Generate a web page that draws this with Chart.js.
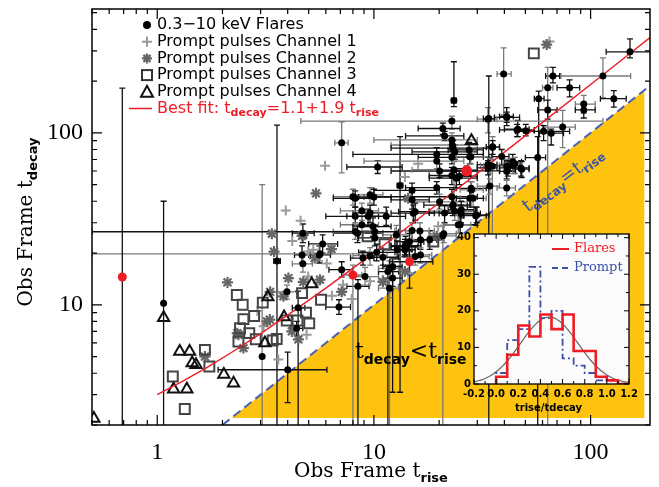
<!DOCTYPE html>
<html>
<head>
<meta charset="utf-8">
<script src="https://cdn.jsdelivr.net/npm/chart.js@4.4.1/dist/chart.umd.min.js"></script>
<style>
  body { margin: 0; background: #fff; }
  #wrap { position: relative; width: 659px; height: 487px; }
  #main { position: absolute; left: 0; top: 0; }
  #inset { position: absolute; left: 440px; top: 225px; }
</style>
</head>
<body>
<div id="wrap">
  <canvas id="main" width="659" height="487"></canvas>
  <canvas id="inset" width="205" height="195"></canvas>
</div>
<script>
// X-ray flares: [t_rise, t_decay, riseLo, riseHi, decayLo, decayHi] (seconds, observer frame)
var flares = [
    [152, 296, 118, 190, 273, 352], [114, 214, 73, 153, 160, 273], [128, 158, 111, 146, 141, 176],
    [80, 183, 70, 89, 162, 203], [93, 147, 85, 105, 130, 165], [93, 136, 85, 105, 122, 150],
    [67, 214, 62, 72, 195, 240], [63.4, 183, 60, 67, 1.5, 240], [57.6, 158, 55, 61, 40, 175],
    [63.4, 136, 57, 70, 120, 155], [39.7, 220, 37, 43, 127, 312], [41, 123, 36, 47, 115, 132],
    [23.4, 154, 22.8, 24, 142, 259], [33.6, 120, 30, 37, 100, 140], [46.1, 105, 40, 52, 95, 118],
    [50.2, 103, 46, 55, 96, 112], [74.3, 108, 60, 85, 82, 135], [60.7, 102, 45, 80, 90, 110],
    [65.8, 99.6, 58, 75, 85, 105], [35.3, 83, 33, 38, 65, 95], [38.9, 72.8, 35, 42, 65, 80],
    [43.7, 67.8, 40, 48, 60, 75], [44.7, 66.1, 42, 47, 58, 72], [57, 71.8, 50, 62, 1.5, 95],
    [48.1, 61.5, 45, 52, 55, 68], [41, 64, 38, 44, 58, 70], [41, 59.7, 38, 45, 54, 66],
    [33.6, 65.4, 30, 37, 60, 72], [35.2, 64, 32, 38, 20, 70], [27.7, 72.5, 24, 32, 66, 80],
    [23.6, 77.6, 15, 30, 70, 85], [23, 85, 12, 30, 78, 92], [24.8, 56, 20, 30, 50, 62],
    [22.9, 56.5, 18, 28, 50, 63], [7.1, 87.5, 6.6, 7.6, 58.5, 116], [10.4, 63.3, 7.5, 13.5, 58, 69],
    [13.2, 49.4, 12.8, 13.6, 3.1, 95], [22.9, 117, 4.6, 114, 105, 125], [20.8, 106, 16, 25, 98, 114],
    [21.2, 96, 14, 26, 90, 102], [22.9, 91, 10, 30, 80, 100], [23.2, 81.5, 12, 35, 75, 90],
    [19.5, 75, 8, 32, 68, 82], [19.5, 68.5, 9, 26, 62, 75], [20.1, 60, 12, 30, 55, 66],
    [22.9, 72, 16, 28, 66, 78], [23.4, 61, 15, 30, 40, 68], [24, 54.5, 18, 30, 48, 60],
    [19.5, 48, 14, 24, 44, 52], [20.1, 39.7, 15, 27, 36, 44], [22.9, 42.5, 9, 30, 38, 47],
    [23.2, 38, 17, 28, 34, 42], [23.6, 35, 18, 30, 31, 39], [25.2, 34, 20, 31, 30, 38],
    [25, 29.2, 21, 30, 26, 33], [28, 72.5, 24, 34, 66, 80], [27.5, 79.5, 22, 32, 72, 88],
    [28.1, 47.6, 24, 33, 43, 52], [28.7, 41.6, 25, 33, 37, 46], [29.8, 33.3, 26, 34, 30, 37],
    [33.9, 121, 32, 36, 1.5, 214], [34.3, 64.5, 31, 38, 58, 71], [33.6, 62.5, 30, 37, 57, 69],
    [35.3, 82.5, 33, 38, 75, 90], [34.3, 49, 30, 38, 44, 54], [41, 124.5, 38, 44, 110, 140],
    [41.5, 62.5, 38, 45, 56, 69], [41, 47.8, 37, 45, 43, 53], [45.8, 104, 38, 55, 95, 112],
    [47.7, 62.5, 44, 52, 56, 69], [43.8, 64.5, 40, 48, 58, 71], [15, 46.3, 10, 20, 42, 51],
    [15.2, 34.1, 12, 19, 30, 38], [8, 42.5, 6.5, 9.5, 38, 47], [8.2, 32.7, 6, 10.5, 29, 37],
    [8.4, 26.1, 6.5, 11, 23, 29], [9.6, 43.6, 8, 11, 39, 48], [9.6, 34.2, 8, 11.5, 30, 38],
    [10, 42.3, 8.5, 12, 38, 47], [8.8, 29.2, 7, 10.5, 26, 33], [10.1, 24.5, 8.5, 12, 22, 27],
    [11.4, 32.7, 9.5, 14, 29, 37], [12.7, 25.5, 11, 15, 22, 29], [12.8, 20.9, 11, 15, 18.5, 23.5],
    [10.3, 20.2, 8.5, 12.5, 18, 22.5], [16.3, 26.9, 14, 19, 24, 30], [16.4, 23.9, 14, 19.5, 21, 27],
    [14.6, 23.3, 12.5, 17, 20.5, 26], [15.5, 19.1, 13, 18, 17, 21.5], [13.9, 21.8, 12, 16, 19.5, 24],
    [18.1, 23.9, 15, 21, 21, 27], [21, 25.9, 18, 24, 23, 29], [5.8, 22.6, 5, 6.8, 20, 25.5],
    [4.7, 26.1, 4.2, 5.3, 23, 29.5], [9.6, 19.3, 8, 11.5, 17, 21.5], [11, 18.9, 9.5, 13, 17, 21],
    [8.2, 41.6, 6.5, 10, 37, 46], [8.8, 35.2, 7, 10.5, 31, 39], [9.4, 32.7, 7.5, 11.5, 29, 36],
    [9.9, 28.5, 8, 12, 25, 32], [8.2, 26.7, 6.5, 10, 24, 30], [15, 40.8, 12, 18, 36, 45],
    [15.5, 34.8, 13, 18, 31, 39], [15, 27, 12.5, 18, 24, 30], [14, 22.1, 12, 16.5, 19.5, 25],
    [21.2, 34.2, 18, 25, 30, 38], [20.8, 25.2, 18, 24, 1.5, 29], [23.1, 37.6, 20, 27, 33, 42],
    [25.3, 35.7, 22, 29, 32, 40], [24.5, 29.2, 21, 28, 26, 33], [29.5, 33, 26, 33, 29, 37],
    [27.7, 41.6, 24, 32, 37, 46], [28.2, 46.6, 25, 32, 42, 52], [3.57, 18, 3.45, 3.7, 1.5, 111],
    [4.66, 19.5, 4.3, 5.1, 17.5, 22], [4.7, 17.3, 4.2, 5.2, 15.5, 19.5], [5.6, 19.5, 5, 6.3, 17.5, 22],
    [7.1, 16, 6.2, 8, 14.5, 17.8], [3.97, 11.9, 3.6, 4.4, 10.8, 13], [4.47, 9.6, 4.2, 4.8, 1.5, 12],
    [4.4, 7.3, 4.1, 4.7, 6.6, 8], [5.64, 19.8, 0.5, 9.5, 18, 22], [6.9, 9.7, 6, 7.8, 8.8, 10.7],
    [1.07, 10.2, 1.07, 1.07, 1.5, 40], [3.05, 5.0, 3.05, 3.05, 1.5, 50], [4.0, 4.19, 1.91, 6.07, 2.7, 5.3],
    [8.44, 12.8, 7.5, 9.5, 1.5, 14], [9.1, 14.6, 8, 10.5, 13, 16.5], [8.9, 18.7, 7.8, 10, 17, 20.5],
    [11.6, 15.6, 10.5, 13, 1.5, 17], [11.8, 16.3, 10.5, 13, 1.5, 18], [12.2, 16.7, 11, 13.5, 3.1, 18.5],
    [12.2, 14.3, 11, 13.5, 12.8, 16], [11.8, 12.5, 10.5, 13, 11, 14], [13.9, 20.9, 12.5, 15.5, 19, 23],
    [14.1, 21.8, 12.5, 16, 19.5, 24], [16.4, 19.5, 14.5, 18.5, 17.5, 21.5], [10.1, 26.6, 0.5, 13, 24, 29]
];
// flares marked in red
var flaresRed = [
    [0.69, 14.5, 0.69, 0.69, 1.5, 182],
    [8.0, 14.9, 7.2, 8.8, 1.5, 17],
    [14.6, 17.8, 11.8, 18.7, 12.5, 21.8],
    [26.8, 60.1, 20, 38, 56, 64]
];
// prompt pulses [t_rise, t_decay] per BAT channel
var promptCh1 = [[3.92, 35.3], [4.59, 30.8], [5.25, 20.9], [6.06, 17.4], [4.97, 14.6], [7.2, 13.1],
    [7.1, 11.9], [6.4, 11.3], [5.95, 64.3], [16, 66], [13.9, 55.3], [19.8, 28.6], [9.6, 13.7],
    [14.4, 15.3], [4.89, 6.7], [3.62, 4.8], [4.97, 20.4], [5.5, 13.5], [64.6, 340], [3.1, 7.5],
    [2.9, 9.2], [11, 14], [7.9, 10.8], [4.2, 23.5]];
var promptCh2 = [[5.4, 44.5], [3.38, 25.9], [4.66, 25.2], [3.46, 20.4], [6.37, 21.1], [2.11, 13.5],
    [4.03, 14.3], [5.33, 18.7], [3.32, 11.9], [5.64, 14], [3.82, 11.2], [3.31, 8.2], [2.37, 6.7],
    [2.5, 5.6], [1.66, 5.0], [4.18, 7.0], [4.48, 6.3], [4.72, 13.6], [2.34, 6.84], [3.21, 8.0],
    [4.72, 25.5], [14.4, 41.6], [7.1, 11.9], [11, 13.6], [13.9, 15.6], [19.5, 25.0], [62.7, 326]];
var promptCh3 = [[2.33, 11.4], [2.48, 10.0], [3.07, 10.3], [2.8, 8.6], [2.5, 8.25], [2.41, 7.3],
    [2.66, 6.84], [2.37, 6.12], [2.85, 6.3], [3.41, 6.2], [3.56, 6.32], [1.66, 5.47], [1.74, 4.38],
    [1.18, 3.83], [1.34, 2.48], [3.96, 8.1], [4.44, 8.1], [4.86, 9.0], [5.03, 7.8], [5.7, 10.7],
    [4.66, 11.7], [18.8, 23.3], [9.35, 25], [11.2, 22.5], [54.7, 290]];
var promptCh4 = [[1.07, 8.4], [1.27, 5.35], [1.41, 5.35], [1.45, 4.58], [1.51, 4.48], [1.19, 3.23],
    [1.37, 3.23], [2.03, 3.93], [2.25, 3.5], [3.14, 5.99], [0.51, 2.18], [3.24, 11.1], [3.85, 8.48],
    [5.16, 13.2], [28.2, 90]];

// best fit t_decay = a + b t_rise
var fitIntercept = 1.1;
var fitSlope = 1.9;
var fitRise = [1, 1.3, 1.7, 2.2, 3, 4, 6, 9, 15, 30, 60, 120, 188];
// t_decay = t_rise line and the shaded t_decay < t_rise region
var equalityRange = [2, 188];
var shadeRange = [2.2, 177];

// inset: trise/tdecay histograms
var histEdges = [0.0, 0.1, 0.2, 0.3, 0.4, 0.5, 0.6, 0.7, 0.8, 0.9, 1.0, 1.1, 1.2];
var flareCounts = [2, 8, 16, 13, 19, 15, 19, 9, 9, 2, 1, 0];
var promptCounts = [3, 12, 15, 32, 18, 20, 7, 5, 3, 1, 1, 0];
var gaussAmp = 18.3, gaussMean = 0.48, gaussSigma = 0.26;

var xTickValues = [1, 10, 100];
var yTickValues = [10, 100];

function pts(rows) {
    return rows.map(function (r) { return { x: r[0], y: r[1] }; });
}

function richText(ctx, x, y, segs, align) {
    var w = 0;
    segs.forEach(function (s) { ctx.font = s[1]; w += ctx.measureText(s[0]).width; });
    var cx = align === 'center' ? x - w / 2 : x;
    segs.forEach(function (s) {
        ctx.font = s[1];
        ctx.fillText(s[0], cx, y + (s[2] || 0));
        cx += ctx.measureText(s[0]).width;
    });
}

var SERIF = '"DejaVu Serif"';
var SANS = '"DejaVu Sans"';

// yellow region, y=x line and error bars underneath the markers
var backdrop = {
    id: 'backdrop',
    beforeDatasetsDraw: function (chart) {
        var ctx = chart.ctx, a = chart.chartArea;
        var sx = chart.scales.x, sy = chart.scales.y;
        ctx.save();
        ctx.beginPath();
        ctx.rect(a.left, a.top, a.right - a.left, a.bottom - a.top);
        ctx.clip();

        ctx.fillStyle = '#fdc30f';
        ctx.beginPath();
        ctx.moveTo(sx.getPixelForValue(shadeRange[0]), sy.getPixelForValue(shadeRange[0]));
        ctx.lineTo(sx.getPixelForValue(shadeRange[1]), sy.getPixelForValue(shadeRange[1]));
        ctx.lineTo(sx.getPixelForValue(shadeRange[1]), sy.getPixelForValue(shadeRange[0]));
        ctx.closePath();
        ctx.fill();

        ctx.strokeStyle = '#4a60b5';
        ctx.lineWidth = 2;
        ctx.setLineDash([9, 5]);
        ctx.beginPath();
        ctx.moveTo(sx.getPixelForValue(equalityRange[0]), sy.getPixelForValue(equalityRange[0]));
        ctx.lineTo(sx.getPixelForValue(equalityRange[1]), sy.getPixelForValue(equalityRange[1]));
        ctx.stroke();
        ctx.setLineDash([]);

        var rows = flares.concat(flaresRed);
        ctx.lineWidth = 1.3;
        rows.forEach(function (r, i) {
            ctx.strokeStyle = i % 3 === 1 ? '#7a7a7a' : '#111';
            var px = sx.getPixelForValue(r[0]), py = sy.getPixelForValue(r[1]);
            var x0 = sx.getPixelForValue(r[2]), x1 = sx.getPixelForValue(r[3]);
            var y0 = sy.getPixelForValue(r[4]), y1 = sy.getPixelForValue(r[5]);
            ctx.beginPath();
            if (r[2] !== r[3]) {
                ctx.moveTo(x0, py); ctx.lineTo(x1, py);
                ctx.moveTo(x0, py - 3); ctx.lineTo(x0, py + 3);
                ctx.moveTo(x1, py - 3); ctx.lineTo(x1, py + 3);
            }
            if (r[4] !== r[5]) {
                ctx.moveTo(px, y0); ctx.lineTo(px, y1);
                ctx.moveTo(px - 3, y0); ctx.lineTo(px + 3, y0);
                ctx.moveTo(px - 3, y1); ctx.lineTo(px + 3, y1);
            }
            ctx.stroke();
        });
        ctx.restore();
    }
};

function logTicks(min, max) {
    var out = [];
    for (var e = -1; e <= 3; e++) {
        for (var m = 1; m <= 9; m++) {
            var v = m * Math.pow(10, e);
            if (v >= min && v <= max) out.push([v, m === 1]);
        }
    }
    return out;
}

function marker(ctx, kind, x, y) {
    ctx.save();
    ctx.beginPath();
    if (kind === 'dot') {
        ctx.fillStyle = '#000';
        ctx.arc(x, y, 4, 0, Math.PI * 2);
        ctx.fill();
    } else if (kind === 'plus') {
        ctx.strokeStyle = '#9a9a9a'; ctx.lineWidth = 2;
        ctx.moveTo(x - 5, y); ctx.lineTo(x + 5, y);
        ctx.moveTo(x, y - 5); ctx.lineTo(x, y + 5);
        ctx.stroke();
    } else if (kind === 'star') {
        ctx.strokeStyle = '#666'; ctx.lineWidth = 2.2;
        for (var k = 0; k < 4; k++) {
            var t = k * Math.PI / 4;
            ctx.moveTo(x - 5 * Math.cos(t), y - 5 * Math.sin(t));
            ctx.lineTo(x + 5 * Math.cos(t), y + 5 * Math.sin(t));
        }
        ctx.stroke();
    } else if (kind === 'square') {
        ctx.strokeStyle = '#333'; ctx.lineWidth = 2;
        ctx.strokeRect(x - 5, y - 5, 10, 10);
    } else if (kind === 'tri') {
        ctx.strokeStyle = '#111'; ctx.lineWidth = 2;
        ctx.moveTo(x - 6, y + 5); ctx.lineTo(x + 6, y + 5); ctx.lineTo(x, y - 6); ctx.closePath();
        ctx.stroke();
    }
    ctx.restore();
}

// ticks, frame, legend and labels on top
var overlay = {
    id: 'overlay',
    afterDraw: function (chart) {
        var ctx = chart.ctx, a = chart.chartArea;
        var sx = chart.scales.x, sy = chart.scales.y;
        ctx.save();
        ctx.strokeStyle = '#000';
        ctx.lineWidth = 1.2;
        ctx.beginPath();
        logTicks(sx.min, sx.max).forEach(function (t) {
            var p = sx.getPixelForValue(t[0]), len = t[1] ? 10 : 5;
            ctx.moveTo(p, a.bottom); ctx.lineTo(p, a.bottom - len);
            ctx.moveTo(p, a.top); ctx.lineTo(p, a.top + len);
        });
        logTicks(sy.min, sy.max).forEach(function (t) {
            var p = sy.getPixelForValue(t[0]), len = t[1] ? 10 : 5;
            ctx.moveTo(a.left, p); ctx.lineTo(a.left + len, p);
            ctx.moveTo(a.right, p); ctx.lineTo(a.right - len, p);
        });
        ctx.stroke();
        ctx.lineWidth = 1.5;
        ctx.strokeRect(a.left, a.top, a.right - a.left, a.bottom - a.top);

        // axis titles
        ctx.fillStyle = '#000';
        ctx.textBaseline = 'alphabetic';
        richText(ctx, (a.left + a.right) / 2, 477, [
            ['Obs Frame t', '20px ' + SERIF], ['rise', 'bold 13px ' + SANS, 5]
        ], 'center');
        ctx.save();
        ctx.translate(32, 222);
        ctx.rotate(-Math.PI / 2);
        richText(ctx, 0, 0, [
            ['Obs Frame t', '20px ' + SERIF], ['decay', 'bold 13px ' + SANS, 5]
        ], 'center');
        ctx.restore();

        // legend
        var lx = 147, tx = 157;
        var rows = [
            ['dot', '0.3\u221210 keV Flares'],
            ['plus', 'Prompt pulses Channel 1'],
            ['star', 'Prompt pulses Channel 2'],
            ['square', 'Prompt pulses Channel 3'],
            ['tri', 'Prompt pulses Channel 4']
        ];
        ctx.textBaseline = 'middle';
        rows.forEach(function (r, i) {
            var y = 25 + i * 16.7;
            marker(ctx, r[0], lx, y);
            ctx.fillStyle = '#000';
            ctx.font = '16px ' + SANS;
            ctx.fillText(r[1], tx, y);
        });
        var fy = 25 + 5 * 16.7;
        ctx.strokeStyle = '#ee1c24';
        ctx.lineWidth = 1.5;
        ctx.beginPath(); ctx.moveTo(129, fy); ctx.lineTo(152, fy); ctx.stroke();
        ctx.fillStyle = '#ee1c24';
        richText(ctx, tx, fy, [
            ['Best fit: t', '16px ' + SANS], ['decay', 'bold 11px ' + SANS, 5],
            ['=' + fitIntercept.toFixed(1) + '+' + fitSlope.toFixed(1) + ' t', '16px ' + SANS],
            ['rise', 'bold 11px ' + SANS, 5]
        ]);

        // region labels
        ctx.textBaseline = 'alphabetic';
        ctx.fillStyle = '#3d55a8';
        ctx.save();
        ctx.translate(566, 184);
        ctx.rotate(-37 * Math.PI / 180);
        richText(ctx, 0, 0, [
            ['t', '19px ' + SERIF], ['decay', 'bold 12px ' + SANS, 4],
            ['=t', '19px ' + SERIF], ['rise', 'bold 12px ' + SANS, 4]
        ], 'center');
        ctx.restore();
        ctx.fillStyle = '#000';
        richText(ctx, 355, 358, [
            ['t', '22px ' + SERIF], ['decay', 'bold 14px ' + SANS, 6],
            ['<t', '22px ' + SERIF], ['rise', 'bold 14px ' + SANS, 6]
        ]);
        ctx.restore();
    }
};

var mainChart = new Chart(document.getElementById('main'), {
    type: 'scatter',
    data: {
        datasets: [{
            data: pts(flaresRed),
            pointRadius: function (c) { return c.dataIndex === 3 ? 5.5 : 4.5; },
            backgroundColor: '#ee1c24', borderWidth: 0
        }, {
            data: pts(flares),
            pointRadius: 3.5, backgroundColor: '#000', borderWidth: 0
        }, {
            data: fitRise.map(function (t) { return { x: t, y: fitIntercept + fitSlope * t }; }),
            showLine: true, pointRadius: 0, borderColor: '#ee1c24', borderWidth: 1.4
        }, {
            data: pts(promptCh4),
            pointStyle: 'triangle', pointRadius: 6.5, borderColor: '#111',
            backgroundColor: 'rgba(0,0,0,0)', borderWidth: 2
        }, {
            data: pts(promptCh3),
            pointStyle: 'rect', pointRadius: 7, borderColor: '#444',
            backgroundColor: 'rgba(0,0,0,0)', borderWidth: 2
        }, {
            data: pts(promptCh2),
            pointStyle: 'star', pointRadius: 5.5, borderColor: '#666', borderWidth: 2.2
        }, {
            data: pts(promptCh1),
            pointStyle: 'cross', pointRadius: 5, borderColor: '#9a9a9a', borderWidth: 2
        }]
    },
    options: {
        responsive: false,
        animation: false,
        devicePixelRatio: 1,
        layout: { padding: { left: 0, right: 8, top: 9, bottom: 0 } },
        plugins: { legend: { display: false }, tooltip: { enabled: false } },
        scales: {
            x: {
                type: 'logarithmic', min: 0.5, max: 188,
                grid: { display: false, drawTicks: false },
                border: { display: false },
                ticks: {
                    font: { family: 'Liberation Serif', size: 24 }, color: '#000',
                    padding: 13, maxRotation: 0, autoSkip: false,
                    callback: function (v) { return String(v); }
                },
                afterBuildTicks: function (s) { s.ticks = xTickValues.map(function (v) { return { value: v }; }); },
                afterFit: function (s) { s.height = 62; s.paddingLeft = 0; s.paddingRight = 0; }
            },
            y: {
                type: 'logarithmic', min: 2, max: 525,
                grid: { display: false, drawTicks: false },
                border: { display: false },
                ticks: {
                    font: { family: 'Liberation Serif', size: 24 }, color: '#000',
                    padding: 9, autoSkip: false,
                    callback: function (v) { return String(v); }
                },
                afterBuildTicks: function (s) { s.ticks = yTickValues.map(function (v) { return { value: v }; }); },
                afterFit: function (s) { s.width = 92; s.paddingTop = 0; s.paddingBottom = 0; }
            }
        }
    },
    plugins: [backdrop, overlay]
});

// ---- inset histogram ----
function histLine(counts) {
    var out = [{ x: histEdges[0], y: 0 }];
    counts.forEach(function (c, i) {
        out.push({ x: histEdges[i], y: c });
        out.push({ x: histEdges[i + 1], y: c });
    });
    out.push({ x: histEdges[histEdges.length - 1], y: 0 });
    return out;
}

var gaussCurve = [];
for (var g = -0.2; g <= 1.2001; g += 0.02) {
    gaussCurve.push({ x: g, y: gaussAmp * Math.exp(-Math.pow(g - gaussMean, 2) / (2 * gaussSigma * gaussSigma)) });
}

var insetFrame = {
    id: 'insetFrame',
    beforeDraw: function (chart) {
        var ctx = chart.ctx, a = chart.chartArea;
        ctx.save();
        ctx.fillStyle = '#fbfbfc';
        ctx.fillRect(a.left, a.top, a.right - a.left, a.bottom - a.top);
        ctx.restore();
    },
    afterDraw: function (chart) {
        var ctx = chart.ctx, a = chart.chartArea;
        var sx = chart.scales.x, sy = chart.scales.y;
        ctx.save();
        ctx.strokeStyle = '#000';
        ctx.lineWidth = 1;
        ctx.beginPath();
        for (var v = -0.2; v <= 1.2001; v += 0.1) {
            var major = Math.abs(Math.round(v * 10)) % 2 === 0;
            var p = sx.getPixelForValue(v), len = major ? 5 : 3;
            ctx.moveTo(p, a.bottom); ctx.lineTo(p, a.bottom - len);
            ctx.moveTo(p, a.top); ctx.lineTo(p, a.top + len);
        }
        for (var w = 0; w <= 40; w += 5) {
            var q = sy.getPixelForValue(w), l2 = w % 10 === 0 ? 5 : 3;
            ctx.moveTo(a.left, q); ctx.lineTo(a.left + l2, q);
            ctx.moveTo(a.right, q); ctx.lineTo(a.right - l2, q);
        }
        ctx.stroke();
        ctx.lineWidth = 1.3;
        ctx.strokeRect(a.left, a.top, a.right - a.left, a.bottom - a.top);

        ctx.fillStyle = '#000';
        ctx.font = 'bold 10px ' + SANS;
        ctx.textAlign = 'center';
        ctx.textBaseline = 'middle';
        ctx.fillText('trise/tdecay', (a.left + a.right) / 2 - 3, 183);

        // legend
        ctx.textAlign = 'left';
        ctx.lineWidth = 2;
        ctx.strokeStyle = '#ee1c24';
        ctx.beginPath(); ctx.moveTo(112, 24); ctx.lineTo(129, 24); ctx.stroke();
        ctx.strokeStyle = '#3c50a8';
        ctx.setLineDash([6, 4]);
        ctx.beginPath(); ctx.moveTo(112, 43); ctx.lineTo(130, 43); ctx.stroke();
        ctx.setLineDash([]);
        ctx.font = '13px ' + SERIF;
        ctx.fillStyle = '#ee1c24';
        ctx.fillText('Flares', 134, 24);
        ctx.fillStyle = '#3c50a8';
        ctx.fillText('Prompt', 134, 43);
        ctx.restore();
    }
};

var insetChart = new Chart(document.getElementById('inset'), {
    type: 'line',
    data: {
        datasets: [{
            data: histLine(flareCounts), borderColor: '#ee1c24', borderWidth: 2.6,
            pointRadius: 0, tension: 0
        }, {
            data: histLine(promptCounts), borderColor: '#3c50a8', borderWidth: 1.8,
            borderDash: [7, 3, 2, 3], pointRadius: 0, tension: 0
        }, {
            data: gaussCurve, borderColor: '#666', borderWidth: 1.2, pointRadius: 0, tension: 0.3
        }]
    },
    options: {
        responsive: false,
        animation: false,
        devicePixelRatio: 1,
        layout: { padding: { left: 0, right: 16, top: 9, bottom: 0 } },
        plugins: { legend: { display: false }, tooltip: { enabled: false } },
        scales: {
            x: {
                type: 'linear', min: -0.2, max: 1.2,
                grid: { display: false, drawTicks: false },
                border: { display: false },
                ticks: {
                    font: { family: 'DejaVu Sans', size: 10, weight: 'bold' }, color: '#000',
                    padding: 4, maxRotation: 0, autoSkip: false,
                    callback: function (v) { return v.toFixed(1); }
                },
                afterBuildTicks: function (s) {
                    s.ticks = [-0.2, 0, 0.2, 0.4, 0.6, 0.8, 1.0, 1.2].map(function (v) { return { value: v }; });
                },
                afterFit: function (s) { s.height = 36; s.paddingLeft = 0; s.paddingRight = 0; }
            },
            y: {
                min: 0, max: 41,
                grid: { display: false, drawTicks: false },
                border: { display: false },
                ticks: {
                    font: { family: 'DejaVu Sans', size: 10, weight: 'bold' }, color: '#000',
                    padding: 3, autoSkip: false
                },
                afterBuildTicks: function (s) {
                    s.ticks = [0, 10, 20, 30, 40].map(function (v) { return { value: v }; });
                },
                afterFit: function (s) { s.width = 34; s.paddingTop = 0; s.paddingBottom = 0; }
            }
        }
    },
    plugins: [insetFrame]
});
</script>
</body>
</html>
